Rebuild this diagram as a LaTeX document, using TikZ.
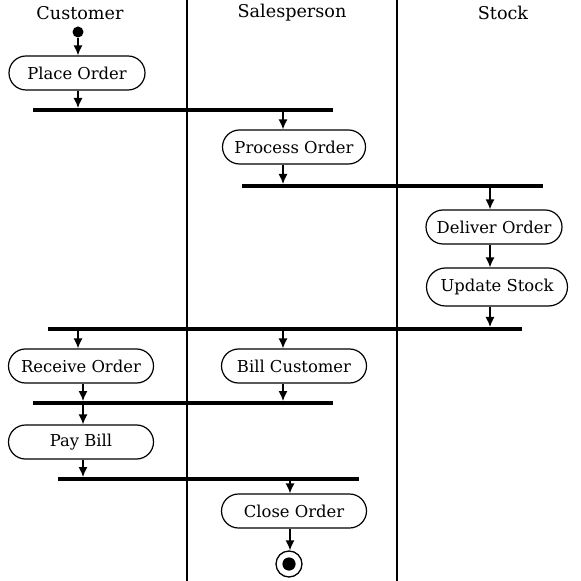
\documentclass[tikz,border=0pt]{standalone}
\usepackage{fontspec}
\setmainfont{DejaVu Serif}
\usetikzlibrary{arrows.meta,shapes.misc}
\begin{document}
\begin{tikzpicture}[x=0.5pt, y=-0.5pt, >={Latex[length=5pt,width=4.5pt]},
  act/.style={draw, rounded rectangle, line width=0.6pt, minimum width=74.5pt,
              minimum height=17pt, inner sep=1pt, font=\fontsize{8.2}{9}\selectfont},
  bar/.style={fill=black, inner sep=0pt, minimum height=1.6pt},
  flow/.style={->, line width=0.65pt},
  lane/.style={font=\fontsize{8.8}{10}\selectfont}]

\useasboundingbox (0,0) rectangle (580,581);

% Swimlanes
\foreach \x in {187,397}
  \draw[line width=0.55pt] (\x,0) -- (\x,581);
\node[lane] (cust) at (80,13) {Customer};
\node[lane] (sales) at (292,13) {Salesperson};
\node[lane] (stock) at (503,13) {Stock};

% Columns for the flows
\coordinate (c1) at (78,0);
\coordinate (c2) at (83,0);
\coordinate (c3) at (283,0);
\coordinate (c4) at (290,0);
\coordinate (c5) at (490,0);

% Activities
\node[circle, fill=black, inner sep=0pt, minimum size=5.5pt] (start) at (78,32) {};
\node[act, minimum width=70pt] (place) at (77,73) {Place Order};
\node[act, minimum width=73.5pt] (proc) at (294,147) {Process Order};
\node[act, minimum width=70pt] (deliver) at (494,227) {Deliver Order};
\node[act, minimum width=72.5pt, minimum height=19pt] (update) at (497,287) {Update Stock};
\node[act] (receive) at (81,366) {Receive Order};
\node[act] (bill) at (294,366) {Bill Customer};
\node[act] (pay) at (81,442) {Pay Bill};
\node[act] (close) at (294,511) {Close Order};
\node[circle, draw, line width=0.65pt, minimum size=13pt, inner sep=0pt] (stop) at (289,564) {};
\fill (stop.center) circle (3.3pt);

% Fork / join bars
\node[bar, minimum width=150pt] (b1) at (183,110) {};
\node[bar, minimum width=150.5pt] (b2) at (392.5,186) {};
\node[bar, minimum width=237pt] (b3) at (285,329) {};
\node[bar, minimum width=150pt] (b4) at (183,403) {};
\node[bar, minimum width=150.5pt] (b5) at (208.5,479) {};

% Flows
\draw[flow] (start) -- (place.north -| c1);
\draw[flow] (place.south -| c1) -- (b1.north -| c1);
\draw[flow] (b1.south -| c3) -- (proc.north -| c3);
\draw[flow] (proc.south -| c3) -- (b2.north -| c3);
\draw[flow] (b2.south -| c5) -- (deliver.north -| c5);
\draw[flow] (deliver.south -| c5) -- (update.north -| c5);
\draw[flow] (update.south -| c5) -- (b3.north -| c5);
\draw[flow] (b3.south -| c1) -- (receive.north -| c1);
\draw[flow] (b3.south -| c3) -- (bill.north -| c3);
\draw[flow] (receive.south -| c2) -- (b4.north -| c2);
\draw[flow] (bill.south -| c3) -- (b4.north -| c3);
\draw[flow] (b4.south -| c2) -- (pay.north -| c2);
\draw[flow] (pay.south -| c2) -- (b5.north -| c2);
\draw[flow] (b5.south -| c4) -- (close.north -| c4);
\draw[flow] (close.south -| c4) -- (stop.north -| c4);

\end{tikzpicture}
\end{document}
